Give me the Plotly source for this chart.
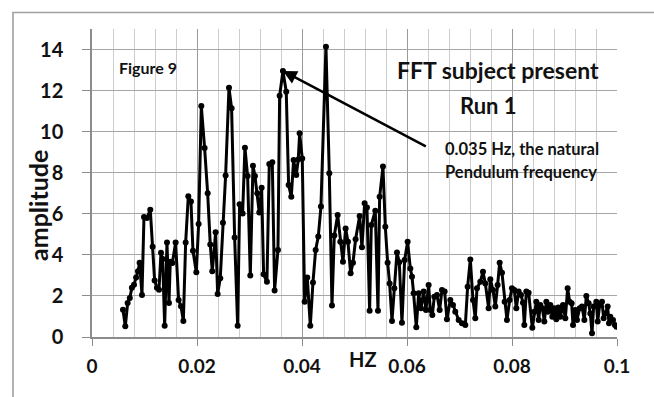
import plotly.graph_objects as go

# Frequency (mHz) and amplitude
freq_mhz = [
    5.90, 6.34, 6.79, 7.20, 7.60, 8.00, 8.40, 8.76, 9.07, 9.52,
    9.90, 10.47, 11.10, 11.55, 11.93, 12.37, 12.76, 13.14, 13.45, 13.84,
    14.28, 14.66, 14.91, 15.30, 15.93, 16.50, 16.95, 17.40, 17.84, 18.34,
    18.85, 19.23, 19.87, 20.31, 20.82, 21.45, 22.03, 22.53, 22.91, 23.55,
    23.93, 24.43, 24.94, 25.45, 26.09, 26.59, 27.17, 27.74, 28.12, 28.69,
    29.13, 29.64, 30.15, 30.66, 31.04, 31.48, 31.86, 32.31, 32.69, 33.32,
    33.77, 34.34, 34.78, 35.42, 35.74, 36.37, 37.00, 37.45, 37.96, 38.40,
    38.91, 39.29, 39.55, 40.05, 40.50, 41.00, 41.58, 42.09, 42.60, 43.10,
    43.61, 44.56, 45.20, 45.71, 46.15, 46.79, 47.30, 47.80, 48.31, 48.75,
    49.26, 49.71, 50.21, 50.98, 51.42, 51.93, 52.37, 52.88, 53.20, 53.96,
    54.47, 54.79, 55.42, 55.87, 56.31, 56.69, 57.14, 57.58, 58.09, 58.53,
    59.04, 59.55, 60.12, 60.63, 60.95, 61.26, 61.77, 62.22, 62.66, 63.17,
    63.61, 64.12, 64.44, 64.82, 65.20, 65.71, 66.22, 66.66, 67.17, 67.61,
    68.25, 68.76, 69.20, 69.84, 70.47, 71.11, 71.55, 72.06, 72.57, 73.01,
    73.33, 73.96, 74.47, 74.92, 75.55, 75.87, 76.38, 76.82, 77.26, 77.65,
    78.09, 78.60, 79.04, 79.55, 79.99, 80.44, 80.82, 81.27, 81.71, 82.09,
    82.35, 82.73, 83.17, 83.87, 84.25, 84.63, 85.08, 85.39, 85.78, 86.16,
    86.54, 86.86, 87.30, 87.68, 88.06, 88.44, 88.82, 89.20, 89.71, 90.16,
    90.60, 90.98, 91.36, 91.62, 92.06, 92.38, 92.89, 93.33, 93.78, 94.16,
    94.60, 94.92, 95.24, 95.55, 96.06, 96.32, 96.70, 97.14, 97.46, 97.78,
    98.22, 98.47, 98.73, 99.24, 99.60, 99.90,
]
amplitude = [
    1.33, 0.52, 1.65, 1.90, 2.40, 2.55, 2.90, 3.20, 3.62, 2.05,
    5.85, 5.80, 6.20, 4.40, 2.75, 2.40, 2.30, 4.10, 3.80, 0.55,
    4.60, 1.65, 3.67, 3.60, 4.60, 1.80, 1.50, 0.78, 4.60, 6.85,
    6.60, 4.20, 3.15, 5.50, 11.25, 9.20, 7.00, 4.50, 3.20, 5.10,
    2.10, 2.86, 5.57, 7.86, 12.14, 11.14, 4.85, 0.55, 6.46, 6.02,
    9.22, 7.84, 2.99, 8.34, 7.84, 7.00, 6.06, 7.27, 3.05, 2.69,
    8.43, 8.51, 2.26, 4.24, 11.75, 12.95, 11.95, 7.40, 6.83, 8.62,
    7.89, 8.65, 9.92, 8.69, 1.72, 2.90, 0.55, 2.66, 4.24, 4.89,
    6.35, 14.14, 7.97, 1.53, 4.94, 5.94, 4.64, 3.67, 5.29, 4.64,
    3.10, 3.62, 4.76, 5.89, 4.37, 6.51, 6.31, 1.28, 5.45, 6.15,
    1.28, 6.83, 8.30, 5.37, 3.62, 2.61, 0.78, 2.37, 4.12, 3.64,
    0.70, 3.75, 4.64, 3.34, 2.94, 2.13, 0.47, 2.13, 1.40, 2.21,
    1.31, 2.53, 1.31, 1.07, 1.96, 2.05, 1.31, 2.29, 2.21, 0.86,
    1.80, 1.56, 1.23, 0.83, 0.67, 0.58, 2.45, 3.78, 1.80, 0.91,
    2.37, 2.69, 3.18, 2.61, 1.40, 2.81, 2.29, 1.48, 2.53, 3.62,
    3.13, 1.72, 0.83, 1.80, 2.37, 2.29, 1.40, 2.21, 2.05, 1.67,
    0.58, 2.21, 2.16, 0.45, 1.23, 1.72, 0.83, 1.56, 1.40, 0.75,
    1.72, 1.23, 1.56, 0.99, 1.40, 0.86, 1.44, 0.99, 1.56, 0.91,
    2.37, 1.72, 1.64, 0.58, 1.31, 0.83, 1.40, 1.48, 0.83, 2.00,
    1.64, 1.15, 0.18, 1.48, 1.72, 0.75, 1.56, 1.72, 0.91, 1.15,
    1.48, 0.67, 0.99, 0.83, 0.58, 0.50,
]
freq_hz = [f / 1000 for f in freq_mhz]

x_tickvals = [0, 0.02, 0.04, 0.06, 0.08, 0.1]
x_ticktext = ["0", "0.02", "0.04", "0.06", "0.08", "0.1"]
y_tickvals = [0, 2, 4, 6, 8, 10, 12, 14]

# arrow: tip at the natural-frequency peak, tail near the label
arrow_tip = (0.03638, 12.96)
arrow_tail = (0.06387, 9.25)

FONT = "Lato"
fig = go.Figure()
fig.add_trace(go.Scatter(
    x=freq_hz, y=amplitude, mode="lines+markers",
    line=dict(color="black", width=3),
    marker=dict(color="black", size=6),
    showlegend=False,
))

fig.update_layout(
    width=654, height=397,
    margin=dict(l=92, r=37, t=29, b=60),
    paper_bgcolor="white", plot_bgcolor="white",
    font=dict(family=FONT, color="#111111"),
    xaxis=dict(
        range=[0, 0.1], tickvals=x_tickvals, ticktext=x_ticktext,
        showgrid=True, gridcolor="#9a9a9a", gridwidth=1.3,
        minor=dict(dtick=0.004, tick0=0, showgrid=True, gridcolor="#cdcdcd", gridwidth=1),
        ticks="outside", ticklen=7, tickcolor="#8c8c8c", tickwidth=1.3,
        showline=True, linecolor="#8c8c8c", linewidth=1.5, zeroline=False,
        tickfont=dict(family=FONT, size=19, weight="bold", color="#111111"),
        ticklabelstandoff=4,
    ),
    yaxis=dict(
        range=[0, 15], tickvals=y_tickvals,
        showgrid=True, gridcolor="#a6a6a6", gridwidth=1.3,
        ticks="outside", ticklen=8, tickcolor="#8c8c8c", tickwidth=1.3,
        showline=True, linecolor="#8c8c8c", linewidth=1.5, zeroline=False,
        tickfont=dict(family=FONT, size=20, weight="bold", color="#111111"),
        ticklabelstandoff=15,
    ),
    shapes=[
        dict(type="rect", xref="paper", yref="paper", x0=-0.1505, x1=1.3, y0=-0.4, y1=1.0536,
             line=dict(color="#a0a0a0", width=1.6), fillcolor="rgba(0,0,0,0)", layer="above"),
    ],
)

bold = lambda s: dict(family=FONT, size=s, weight="bold", color="#111111")
annotations = [
    dict(text="amplitude", x=-0.1029, y=0.4286, textangle=-90, font=bold(25)),
    dict(text="HZ", x=0.5168, y=-0.0714, font=bold(20)),
    dict(text="Figure 9", x=0.1067, y=0.8766, font=bold(16)),
    dict(text="FFT subject present", x=0.7733, y=0.866, font=bold(23)),
    dict(text="Run 1", x=0.7543, y=0.7532, font=bold(22)),
    dict(text="0.035 Hz, the natural", x=0.6686, y=0.610, xanchor="left", font=bold(16.5)),
    dict(text="Pendulum frequency", x=0.6686, y=0.5357, xanchor="left", font=bold(16.5)),
]
for a in annotations:
    a.setdefault("xanchor", "center")
    fig.add_annotation(xref="paper", yref="paper", showarrow=False, yanchor="middle", **a)

fig.add_annotation(
    x=arrow_tip[0], y=arrow_tip[1], ax=arrow_tail[0], ay=arrow_tail[1],
    xref="x", yref="y", axref="x", ayref="y", text="",
    showarrow=True, arrowhead=2, arrowsize=1.1, arrowwidth=2.5, arrowcolor="black", standoff=0,
)

fig.write_html("out.html")
